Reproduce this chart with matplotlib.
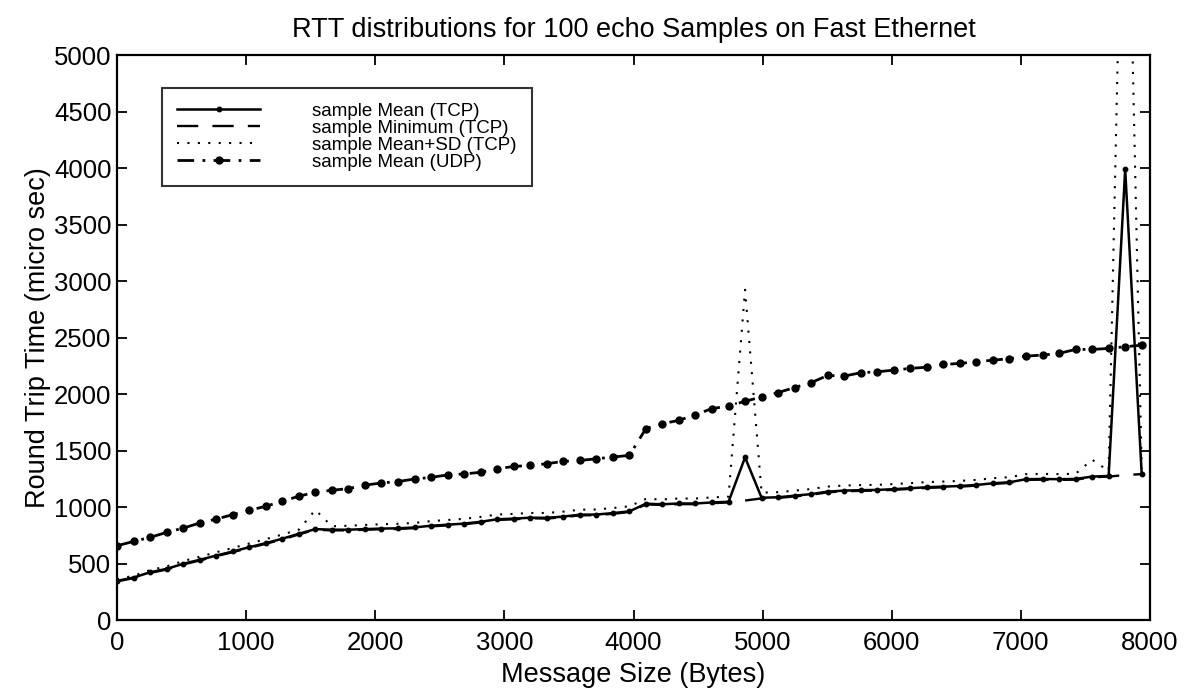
import matplotlib
matplotlib.use("Agg")
import matplotlib.pyplot as plt
import numpy as np

plt.rcParams['font.family'] = ['Liberation Sans', 'DejaVu Sans']

# Message sizes (bytes)
msg_size = list(range(0, 7937, 128))

mean_tcp = [347, 376, 423, 453, 498, 533, 571, 607, 645, 681,
            720, 764, 805, 800, 800, 805, 810, 812, 820, 835,
            844, 854, 870, 892, 898, 906, 905, 916, 933, 934,
            947, 962, 1030, 1025, 1032, 1032, 1041, 1047, 1440, 1083,
            1087, 1101, 1115, 1137, 1146, 1150, 1152, 1159, 1167, 1176,
            1181, 1187, 1196, 1211, 1220, 1247, 1249, 1247, 1249, 1270,
            1276, 3990, 1295]

min_tcp = [342, 371, 417, 447, 492, 527, 565, 601, 639, 675,
           714, 758, 799, 794, 794, 799, 804, 806, 814, 829,
           838, 848, 864, 886, 892, 900, 899, 910, 927, 928,
           941, 956, 1024, 1019, 1026, 1026, 1035, 1041, 1058, 1077,
           1081, 1095, 1109, 1131, 1140, 1144, 1146, 1153, 1161, 1170,
           1175, 1181, 1190, 1205, 1214, 1241, 1243, 1241, 1243, 1264,
           1270, 1284, 1292]

meansd_tcp = [362, 392, 442, 475, 522, 560, 600, 638, 678, 716,
              757, 800, 975, 830, 835, 842, 848, 852, 860, 876,
              886, 896, 913, 934, 940, 948, 948, 960, 977, 979,
              992, 1007, 1072, 1068, 1076, 1076, 1086, 1092, 2925, 1128,
              1132, 1146, 1160, 1182, 1191, 1195, 1197, 1204, 1212, 1221,
              1226, 1232, 1241, 1256, 1265, 1292, 1294, 1292, 1295, 1420,
              1320, 8000, 1340]

mean_udp = [658, 696, 732, 776, 814, 859, 894, 933, 972, 1007,
            1052, 1096, 1132, 1149, 1164, 1194, 1214, 1226, 1249, 1263,
            1285, 1294, 1308, 1339, 1360, 1369, 1384, 1405, 1413, 1428,
            1443, 1458, 1695, 1739, 1768, 1819, 1872, 1895, 1937, 1975,
            2014, 2059, 2102, 2166, 2160, 2190, 2198, 2213, 2228, 2239,
            2263, 2272, 2287, 2301, 2314, 2337, 2346, 2361, 2396, 2396,
            2405, 2420, 2434]

labels = ['sample Mean (TCP)', 'sample Minimum (TCP)',
          'sample Mean+SD (TCP)', 'sample Mean (UDP)']

fig = plt.figure(figsize=(11.87, 6.92), dpi=100)
ax = fig.add_axes([0.0986, 0.104, 0.8702, 0.816])

ax.plot(msg_size, mean_tcp, color='black', lw=1.8, marker='o', ms=3.2,
        label=labels[0])
ax.plot(msg_size, min_tcp, color='black', lw=1.7, ls=(0, (9, 6)),
        label=labels[1])
ax.plot(msg_size, meansd_tcp, color='black', lw=1.5, ls=(0, (1, 4)),
        label=labels[2])
ax.plot(msg_size, mean_udp, color='black', lw=2.0, ls=(0, (6, 3, 1, 3)),
        marker='o', ms=5, label=labels[3])

ax.set_xlim(0, 8000)
ax.set_ylim(0, 5000)
ax.set_xticks(np.arange(0, 8001, 1000))
ax.set_yticks(np.arange(0, 5001, 500))
ax.tick_params(direction='in', top=True, right=True, length=7, width=1.3,
               labelsize=18.5)
ax.tick_params(axis='x', pad=8)
ax.tick_params(axis='y', pad=4)
for s in ax.spines.values():
    s.set_linewidth(1.6)

ax.set_title('RTT distributions for 100 echo Samples on Fast Ethernet',
             fontsize=19.5, pad=13)
ax.set_xlabel('Message Size (Bytes)', fontsize=19.5, labelpad=5)
ax.set_ylabel('Round Trip Time (micro sec)', fontsize=19.5, labelpad=2)

leg = ax.legend(loc='upper left', bbox_to_anchor=(0.044, 0.943),
                fontsize=13.5, frameon=True, fancybox=False,
                edgecolor='black', handlelength=4.4, handletextpad=2.8,
                labelspacing=0.0, borderpad=0.8, markerfirst=True,
                borderaxespad=0)
leg.get_frame().set_linewidth(1.5)

fig.savefig('out.png', dpi=100)
